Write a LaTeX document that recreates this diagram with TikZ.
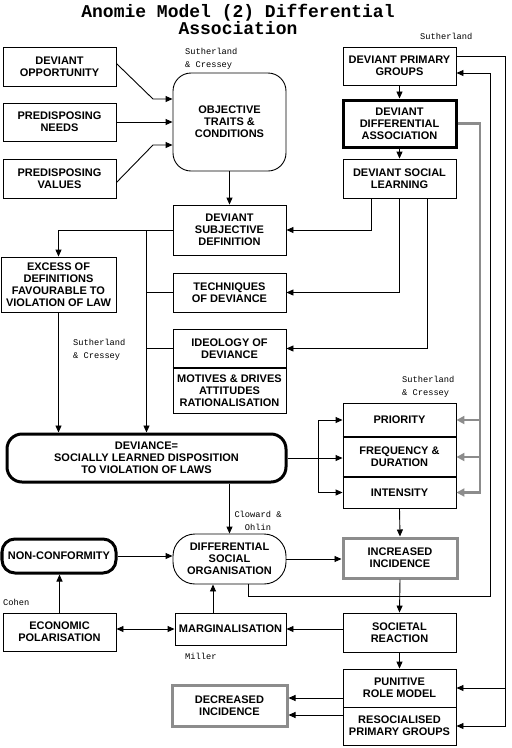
\documentclass[tikz,border=0pt]{standalone}
\usepackage{fontspec}
\usetikzlibrary{arrows.meta,calc}
\newfontfamily\boxfont{Liberation Sans}
\newfontfamily\ttlfont{Liberation Mono}
\begin{document}
\begin{tikzpicture}[x=1pt,y=-1pt,
  box/.style={draw,line width=0.9pt,inner sep=0pt,align=center,minimum width=113pt,
    font={\boxfont\bfseries\fontsize{11pt}{12pt}\selectfont}},
  dotbox/.style={box,draw=black!45,line width=3pt},
  ln/.style={line width=0.9pt},
  arr/.style={ln,-{Triangle[length=7pt,width=6pt]}},
  darr/.style={ln,{Triangle[length=7pt,width=6pt]}-{Triangle[length=7pt,width=6pt]}},
  garr/.style={line width=2.6pt,draw=black!45,-{Triangle[length=8pt,width=8pt]}},
  sep/.style={line width=2pt},
  lbl/.style={font={\ttlfont\fontsize{8.7pt}{13pt}\selectfont},align=left,inner sep=0pt}]
\useasboundingbox (0,0) rectangle (512,748);

\node[font={\ttlfont\bfseries\fontsize{18pt}{17pt}\selectfont},align=center,inner sep=0pt] (title) at (238,19) {Anomie Model (2) Differential\\Association};

% left and middle column
\node[box,minimum height=39pt] (opp) at (59.5,66.5) {DEVIANT\\OPPORTUNITY};
\node[box,minimum height=38pt] (needs) at (59.5,122) {PREDISPOSING\\NEEDS};
\node[box,minimum height=39pt] (values) at (59.5,178.5) {PREDISPOSING\\VALUES};
\node[box,minimum height=98pt,rounded corners=18pt] (traits) at (229.5,122) {OBJECTIVE\\TRAITS \&\\CONDITIONS};
\node[box,minimum height=50pt] (dsd) at (229.5,230) {DEVIANT\\SUBJECTIVE\\DEFINITION};
\node[box,minimum width=115pt,minimum height=55pt] (excess) at (58.5,284.5) {EXCESS OF\\DEFINITIONS\\FAVOURABLE TO\\VIOLATION OF LAW};
\node[box,minimum height=39pt] (tech) at (229.5,292.5) {TECHNIQUES\\OF DEVIANCE};
\node[box,minimum height=39pt] (ideo) at (229.5,348.5) {IDEOLOGY OF\\DEVIANCE};
\node[box,minimum height=45pt] (motiv) at (229.5,390.5) {MOTIVES \& DRIVES\\ATTITUDES\\RATIONALISATION};
\draw[sep] (motiv.north west) -- (motiv.north east);

% right column
\node[box,minimum height=38pt] (dpg) at (399.5,66) {DEVIANT PRIMARY\\GROUPS};
\node[box,line width=3pt,minimum height=47pt] (dda) at (399.5,123.5) {DEVIANT\\DIFFERENTIAL\\ASSOCIATION};
\node[box,minimum height=39pt] (dsl) at (399.5,178.5) {DEVIANT SOCIAL\\LEARNING};
\node[box,minimum height=34pt] (prio) at (399.5,420) {PRIORITY};
\node[box,minimum height=40pt] (freq) at (399.5,457) {FREQUENCY \&\\DURATION};
\node[box,minimum height=31pt] (inten) at (399.5,492.5) {INTENSITY};
\draw[sep] (freq.north west) -- (freq.north east) (freq.south west) -- (freq.south east);

\node[box,line width=3pt,minimum width=279pt,minimum height=48pt,rounded corners=15pt] (dev) at (146.5,458) {DEVIANCE=\\SOCIALLY LEARNED DISPOSITION\\TO VIOLATION OF LAWS};

% lower part
\node[box,minimum height=50pt,rounded corners=22pt] (dso) at (229.5,559) {DIFFERENTIAL\\SOCIAL\\ORGANISATION};
\node[box,line width=3pt,minimum width=114pt,minimum height=34pt,rounded corners=13pt] (nonc) at (59,556) {NON-CONFORMITY};
\node[dotbox,minimum width=114pt,minimum height=40pt] (incr) at (400,558) {INCREASED\\INCIDENCE};
\node[box,minimum height=39pt] (soc) at (399.5,632.5) {SOCIETAL\\REACTION};
\node[box,minimum width=111pt,minimum height=32pt] (marg) at (230.5,629) {MARGINALISATION};
\node[box,minimum height=38pt] (econ) at (59.5,632) {ECONOMIC\\POLARISATION};
\node[box,minimum height=38pt] (pun) at (399.5,688) {PUNITIVE\\ROLE MODEL};
\node[box,minimum height=38pt] (resoc) at (399.5,726) {RESOCIALISED\\PRIMARY GROUPS};
\node[dotbox,minimum width=115pt,minimum height=41pt] (decr) at (229.5,705.5) {DECREASED\\INCIDENCE};

% small labels
\node[lbl,anchor=west] (l1) at (185,58.5) {Sutherland\\\& Cressey};
\node[lbl,anchor=west] (l2) at (420,36) {Sutherland};
\node[lbl,anchor=west] (l3) at (73,350) {Sutherland\\\& Cressey};
\node[lbl,anchor=west] (l4) at (402,386.5) {Sutherland\\\& Cressey};
\node[lbl,align=center] (l5) at (258,521) {Cloward \&\\Ohlin};
\node[lbl,anchor=west] (l6) at (3,602) {Cohen};
\node[lbl,anchor=west] (l7) at (185,656) {Miller};

% coordinates for bends
\coordinate (b1) at (153,99);
\coordinate (b2) at (153,145);
\coordinate (s1) at ($(dsl.south west)+(29,0)$);
\coordinate (s3) at ($(dsl.south west)+(85,0)$);
\coordinate (r1) at ($(dpg.north east)+(0,10)$);
\coordinate (rx) at (505,0);
\coordinate (q1) at ($(dso.south)+(18.5,0)$);
\coordinate (qx) at (490,596);
\coordinate (q2) at ($(dpg.east)+(0,7)$);
\coordinate (gx) at (480,0);
\coordinate (br) at ($(dev.east)+(31,0)$);
\coordinate (p1) at ($(pun.west)+(0,10)$);
\coordinate (p2) at ($(resoc.west)+(0,-11)$);

% connectors
\draw[arr] ($(opp.east)+(0,-3)$) -- (b1) -- (traits.west |- b1);
\draw[arr] (needs.east) -- (traits.west |- needs.east);
\draw[arr] ($(values.east)+(0,4)$) -- (b2) -- (traits.west |- b2);
\draw[arr] (traits.south) -- (dsd.north);
\draw[arr] (dsd.west) -| (excess.north);
\draw[arr] (dsd.west -| dev.north) -- (dev.north);
\draw[ln] (tech.west) -- (tech.west -| dev.north);
\draw[ln] (ideo.west) -- (ideo.west -| dev.north);
\draw[arr] (excess.south) -- (excess.south |- dev.north);
\draw[arr] (s1) |- (dsd.east);
\draw[arr] (dsl.south) |- (tech.east);
\draw[arr] (s3) |- (ideo.east);
\draw[arr] (dpg.south) -- (dda.north);
\draw[arr] (dda.south) -- (dsl.north);

\draw[arr] (r1) -| (rx |- resoc.east) -- (resoc.east);
\draw[arr] (rx |- pun.east) -- (pun.east);
\draw[arr] (q1) |- (qx) |- (q2);

\draw[garr] (dda.east) -| (gx |- inten.east) -- (inten.east);
\draw[garr] (gx |- prio.east) -- (prio.east);
\draw[garr] (gx |- freq.east) -- (freq.east);

\draw[arr] (dev.east) -- (dev.east -| freq.west);
\draw[arr] (br) |- (prio.west);
\draw[arr] (br) |- (inten.west);
\draw[arr] (dev.south -| dso.north) -- (dso.north);
\draw[arr] (inten.south) -- (incr.north);
\draw[arr] (nonc.east) -- (nonc.east -| dso.west);
\draw[arr] (dso.east) -- (dso.east -| incr.west);
\draw[arr] (incr.south) -- (soc.north);
\draw[arr] (soc.west |- marg.east) -- (marg.east);
\draw[darr] (econ.east |- marg.west) -- (marg.west);
\draw[arr] ($(marg.north)+(-17.5,0)$) -- ($(dso.south)+(-16.5,0)$);
\draw[arr] (econ.north) -- (econ.north |- nonc.south);
\draw[arr] (soc.south) -- (pun.north);
\draw[arr] (p1) -- (p1 -| decr.east);
\draw[arr] (p2) -- (p2 -| decr.east);
\end{tikzpicture}
\end{document}
